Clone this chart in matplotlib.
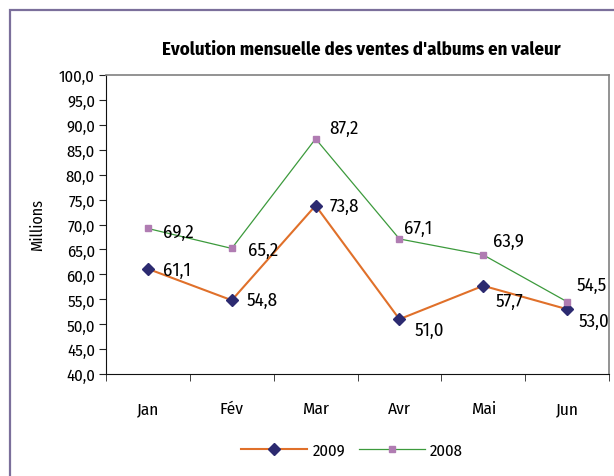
import matplotlib
matplotlib.use("Agg")
import matplotlib.pyplot as plt
from matplotlib.patches import Rectangle

months = ["Jan", "Fév", "Mar", "Avr", "Mai", "Jun"]
ventes_2009 = [61.1, 54.8, 73.8, 51.0, 57.7, 53.0]
ventes_2008 = [69.2, 65.2, 87.2, 67.1, 63.9, 54.5]
yticks = [40 + 5 * i for i in range(13)]

plt.rcParams['font.family'] = ['Fira Sans Condensed', 'DejaVu Sans']

fig = plt.figure(figsize=(6.14, 4.77), dpi=100)
fig.patch.set_facecolor("white")

# outer frame (page box clipped at right/bottom in the reference)
fig.patches.append(Rectangle((10 / 614, -0.1), 1.2, 1 - 11 / 477 + 0.1,
                             transform=fig.transFigure, fill=False,
                             edgecolor="#7b6f9b", linewidth=1.6))

ax = fig.add_axes([106 / 614, 102 / 477, 503 / 614, 299 / 477])
x = list(range(len(months)))

ax.plot(x, ventes_2009, color="#e0702a", linewidth=1.5, marker="D",
        markersize=6.5, markerfacecolor="#2c2a70", markeredgecolor="#2c2a70",
        label="2009", zorder=3)
ax.plot(x, ventes_2008, color="#3c9a3c", linewidth=0.9, marker="s",
        markersize=4.5, markerfacecolor="#b07cb2", markeredgecolor="#b07cb2",
        label="2008", zorder=3)

fmt = lambda v: f"{v:.1f}".replace(".", ",")
# label offsets in pixels (dx, dy up)
off_2009 = [(15, -1), (15, 0), (14, 0), (15, -11), (12, -15), (11, -12)]
off_2008 = [(15, -3), (16, -1), (14, 11), (5, 11), (10, 14), (9, 17)]
for i, v in enumerate(ventes_2009):
    ax.annotate(fmt(v), (x[i], v), xytext=off_2009[i], textcoords="offset pixels",
                fontsize=13.5, va="center", ha="left", annotation_clip=False)
for i, v in enumerate(ventes_2008):
    ax.annotate(fmt(v), (x[i], v), xytext=off_2008[i], textcoords="offset pixels",
                fontsize=13.5, va="center", ha="left", annotation_clip=False)

ax.set_xlim(-0.5, len(months) - 0.5)
ax.set_ylim(40, 100)
ax.set_yticks(yticks)
ax.set_yticklabels([fmt(t) for t in yticks], fontsize=12)
ax.set_xticks(x)
ax.set_xticklabels(months, fontsize=12.5)
ax.set_xticks([i - 0.5 for i in range(len(months) + 1)], minor=True)
ax.tick_params(axis="x", which="major", length=0, pad=19)
ax.tick_params(axis="x", which="minor", length=5, color="#222222")
ax.tick_params(axis="y", length=5, color="#222222", pad=3)
for side in ["left", "bottom"]:
    ax.spines[side].set_color("#111111")
for side in ["right", "top"]:
    ax.spines[side].set_color("#808080")
    ax.spines[side].set_linewidth(1.2)

ax.set_ylabel("Millions", fontsize=11.5, labelpad=10)
fig.text(361 / 614, 1 - 50 / 477, "Evolution mensuelle des ventes d'albums en valeur",
         ha="center", va="center", fontsize=13.5, fontweight="bold")

fig.legend(loc="center", bbox_to_anchor=(352 / 614, 26 / 477), ncol=2, frameon=False,
           fontsize=12, handlelength=4.0, columnspacing=0.8, handletextpad=0.3)

fig.savefig("out.png", dpi=100)
